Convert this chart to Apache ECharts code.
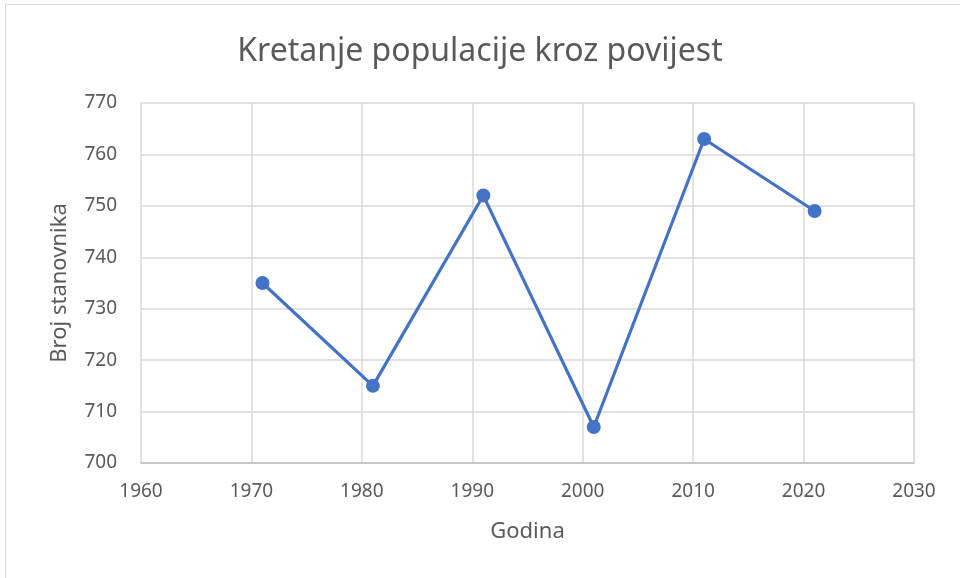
<!DOCTYPE html>
<html>
<head>
<meta charset="utf-8">
<script src="https://cdn.jsdelivr.net/npm/echarts@6/dist/echarts.min.js"></script>
<style>
  html, body { margin: 0; padding: 0; background: #fff; }
  #frame { position: absolute; left: 5px; top: 4px; width: 980px; height: 600px; border: 1px solid #d9d9d9; }
  #line_01 { position: absolute; left: 0; top: 0; width: 960px; height: 578px; }
</style>
</head>
<body>
<div id="frame"></div>
<div id="line_01"></div>
<script>
// 数据
var years = [1971, 1981, 1991, 2001, 2011, 2021];
var population = [735, 715, 752, 707, 763, 749];
var xMin = 1960, xMax = 2030, xStep = 10;
var yMin = 700, yMax = 770, yStep = 10;

var myChart = echarts.init(document.getElementById('line_01'));
var font = 'Noto Sans, DejaVu Sans, sans-serif';
var txt = '#595959';
var gridColor = '#d9d9d9';

var option = {
  animation: false,
  title: {
    text: 'Kretanje populacije kroz povijest',
    left: 'center',
    top: 31,
    textStyle: { color: txt, fontSize: 32, fontWeight: 'normal', fontFamily: font }
  },
  grid: { left: 141, right: 46, top: 103, bottom: 115 },
  xAxis: {
    type: 'value',
    min: xMin, max: xMax, interval: xStep,
    name: 'Godina',
    nameLocation: 'middle',
    nameGap: 58,
    nameTextStyle: { color: txt, fontSize: 22, fontFamily: font },
    axisLabel: {
      color: txt, fontSize: 19, fontFamily: font, margin: 19,
      formatter: function (v) { return String(v); }
    },
    axisTick: { show: false },
    axisLine: { show: true, lineStyle: { color: '#bfbfbf', width: 1.5 } },
    splitLine: { show: true, lineStyle: { color: gridColor, width: 1.5 } }
  },
  yAxis: {
    type: 'value',
    min: yMin, max: yMax, interval: yStep,
    name: 'Broj stanovnika',
    nameLocation: 'middle',
    nameGap: 70,
    nameTextStyle: { color: txt, fontSize: 22, fontFamily: font },
    axisLabel: { color: txt, fontSize: 19, fontFamily: font, margin: 24 },
    axisTick: { show: false },
    axisLine: { show: false },
    splitLine: { show: true, lineStyle: { color: gridColor, width: 1.5 } }
  },
  series: [{
    type: 'line',
    data: years.map(function (y, i) { return [y, population[i]]; }),
    symbol: 'circle',
    symbolSize: 14,
    lineStyle: { color: '#4472C4', width: 3.2 },
    itemStyle: { color: '#4472C4' }
  }]
};
myChart.setOption(option);
// right border of the plot area
myChart.setOption({
  graphic: [{
    type: 'line',
    shape: { x1: 914, y1: 103, x2: 914, y2: 463 },
    style: { stroke: gridColor, lineWidth: 1.5 }
  }]
});
</script>
</body>
</html>
